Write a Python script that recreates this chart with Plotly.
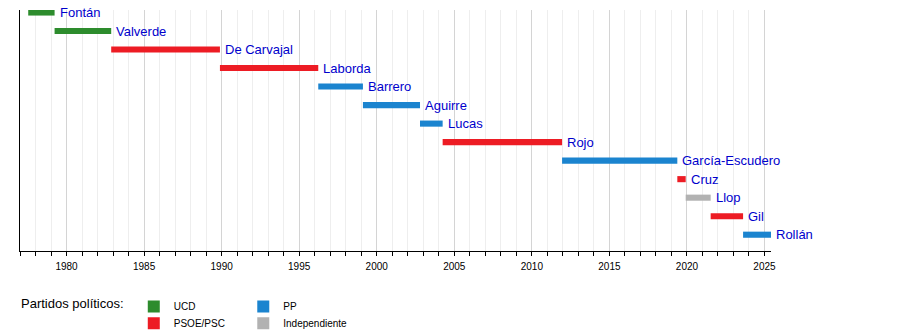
import plotly.graph_objects as go

# ---- data ----
names = ["Fontán", "Valverde", "De Carvajal", "Laborda", "Barrero", "Aguirre", "Lucas",
         "Rojo", "García-Escudero", "Cruz", "Llop", "Gil", "Rollán"]
starts = [1977.53, 1979.23, 1982.88, 1989.89, 1996.23, 1999.11, 2002.79,
          2004.25, 2011.95, 2019.38, 2019.92, 2021.53, 2023.62]
ends = [1979.23, 1982.88, 1989.89, 1996.23, 1999.11, 2002.79, 2004.25,
        2011.95, 2019.38, 2019.92, 2021.53, 2023.62, 2025.42]
parties = ["UCD", "UCD", "PSOE/PSC", "PSOE/PSC", "PP", "PP", "PP",
           "PSOE/PSC", "PP", "PSOE/PSC", "Independiente", "PSOE/PSC", "PP"]
party_order = ["UCD", "PSOE/PSC", "PP", "Independiente"]
party_colors = {"UCD": "#2d8c2d", "PSOE/PSC": "#ed1c24", "PP": "#1b84cf", "Independiente": "#b2b2b2"}
tick_years = [1980, 1985, 1990, 1995, 2000, 2005, 2010, 2015, 2020, 2025]
x_start, x_end = 1977.0, 2025.42

FONT = "Liberation Sans, Arial, sans-serif"
LABEL_BLUE = "#0000cc"

# legend slot for each party (layout styling)
legend_ids = {"UCD": "legend", "PSOE/PSC": "legend2", "PP": "legend3", "Independiente": "legend4"}
legend_pos = {"legend": (0.1515, -0.1705), "legend2": (0.1515, -0.2394),
              "legend3": (0.2973, -0.1705), "legend4": (0.2973, -0.2394)}

fig = go.Figure()
for p in party_order:
    idx = [i for i, q in enumerate(parties) if q == p]
    fig.add_trace(go.Bar(
        orientation="h",
        y=[i for i in idx],
        base=[starts[i] for i in idx],
        x=[ends[i] - starts[i] for i in idx],
        width=0.33,
        marker=dict(color=party_colors[p], line=dict(width=0)),
        name=p,
        legend=legend_ids[p],
        hoverinfo="skip",
    ))

for i, n in enumerate(names):
    fig.add_annotation(x=ends[i], y=i, text=n, showarrow=False, xanchor="left", yanchor="middle",
                       xshift=3, font=dict(family=FONT, size=13, color=LABEL_BLUE))

fig.add_annotation(x=0, y=-0.216, xref="paper", yref="paper", xanchor="left", yanchor="middle",
                   xshift=-1, text="Partidos políticos:", showarrow=False,
                   font=dict(family=FONT, size=13, color="#000000"))

legend_layout = {}
for lid, (lx, ly) in legend_pos.items():
    legend_layout[lid] = dict(x=lx, y=ly, xanchor="left", yanchor="top", orientation="v",
                              font=dict(family=FONT, size=10, color="#000000"),
                              bgcolor="rgba(0,0,0,0)", itemclick=False, itemdoubleclick=False)

fig.update_layout(
    width=900, height=330,
    margin=dict(l=20, r=129, t=10, b=79, autoexpand=False),
    paper_bgcolor="white", plot_bgcolor="white",
    barmode="overlay",
    font=dict(family=FONT, size=10, color="#000000"),
    xaxis=dict(
        range=[x_start, x_end],
        tickvals=tick_years,
        ticks="outside", ticklen=4, tickcolor="#000000", tickwidth=1,
        ticklabelstandoff=2,
        showgrid=True, gridcolor="#d4d4d4", gridwidth=1,
        showline=True, linecolor="#000000", linewidth=1,
        zeroline=False,
        tickfont=dict(family=FONT, size=10, color="#000000"),
        minor=dict(dtick=1, tick0=1977, ticks="outside", ticklen=4, tickcolor="#000000",
                   showgrid=True, gridcolor="#eeeeee", gridwidth=1),
        fixedrange=True,
    ),
    yaxis=dict(
        range=[12.88, -0.135],
        showticklabels=False, ticks="", showgrid=False, zeroline=False,
        showline=True, linecolor="#000000", linewidth=1,
        fixedrange=True,
    ),
    showlegend=True,
    **legend_layout,
)

fig.write_html("out.html")
